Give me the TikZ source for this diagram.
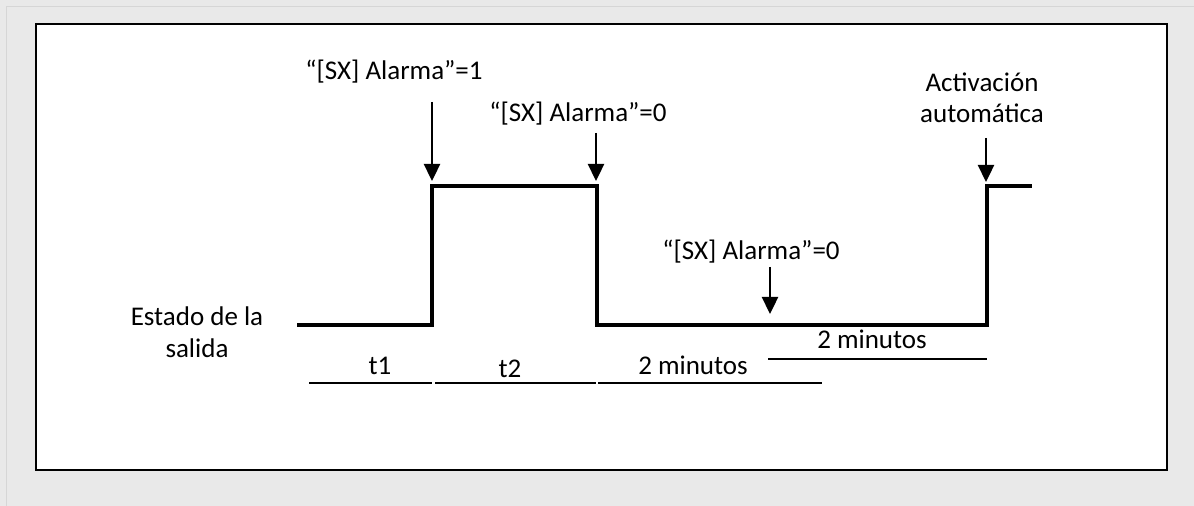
\documentclass[tikz,border=0pt]{standalone}
\usepackage{fontspec}
\setmainfont{Carlito}
\usetikzlibrary{arrows.meta}
\definecolor{bggray}{HTML}{E9E9E9}
\definecolor{edgegray}{HTML}{D6D6D6}
\begin{document}
\begin{tikzpicture}[x=0.5pt,y=-0.5pt,
  lbl/.style={font=\fontsize{13.5}{16}\selectfont, inner sep=0pt, anchor=base},
  sig/.style={line width=2.2pt},
  arr/.style={line width=1.2pt, -{Triangle[length=8.5pt,width=8pt]}},
  tline/.style={line width=0.8pt}]
\useasboundingbox (0,0) rectangle (1194,506);
\fill[bggray] (0,0) rectangle (1194,506);
\draw[edgegray, line width=0.8pt] (6.5,506) -- (6.5,6.5) -- (1194,6.5);
\draw[fill=white, line width=1.1pt] (36,24) rectangle (1167,470);
% signal
\coordinate (s0) at (297,325);
\coordinate (s1) at (432,325);
\coordinate (s2) at (432,186);
\coordinate (s3) at (597,186);
\coordinate (s4) at (597,325);
\coordinate (s5) at (987,325);
\coordinate (s6) at (987,186);
\coordinate (s7) at (1032,186);
\draw[sig] (s0) -- (s1) -- (s2) -- (s3) -- (s4) -- (s5) -- (s6) -- (s7);
% labels
\node[lbl] (l1) at (394,80) {“[SX] Alarma”=1};
\node[lbl] (l2) at (578,122) {“[SX] Alarma”=0};
\node[lbl] (l3) at (751,260) {“[SX] Alarma”=0};
\node[lbl] (act1) at (982,92) {Activación};
\node[lbl] (act2) at (982,123) {automática};
\node[lbl] (est1) at (197,326) {Estado de la};
\node[lbl] (est2) at (197,358) {salida};
\node[lbl] (t1) at (380,375) {t1};
\node[lbl] (t2) at (510,378) {t2};
\node[lbl] (m1) at (693,375) {2 minutos};
\node[lbl] (m2) at (872,349) {2 minutos};
% arrows
\coordinate (a1s) at (432,102); \coordinate (a1e) at (432,181);
\coordinate (a2s) at (596,133); \coordinate (a2e) at (596,181);
\coordinate (a3s) at (770,267); \coordinate (a3e) at (770,314);
\coordinate (a4s) at (986,138); \coordinate (a4e) at (986,182);
\draw[arr] (a1s) -- (a1e);
\draw[arr] (a2s) -- (a2e);
\draw[arr] (a3s) -- (a3e);
\draw[arr] (a4s) -- (a4e);
% timing lines
\coordinate (u1a) at (309,383); \coordinate (u1b) at (432,383);
\coordinate (u2a) at (435,383); \coordinate (u2b) at (596,383);
\coordinate (u3a) at (598,383); \coordinate (u3b) at (822,383);
\coordinate (u4a) at (768,359); \coordinate (u4b) at (987,359);
\draw[tline] (u1a) -- (u1b);
\draw[tline] (u2a) -- (u2b);
\draw[tline] (u3a) -- (u3b);
\draw[tline] (u4a) -- (u4b);
\end{tikzpicture}
\end{document}
